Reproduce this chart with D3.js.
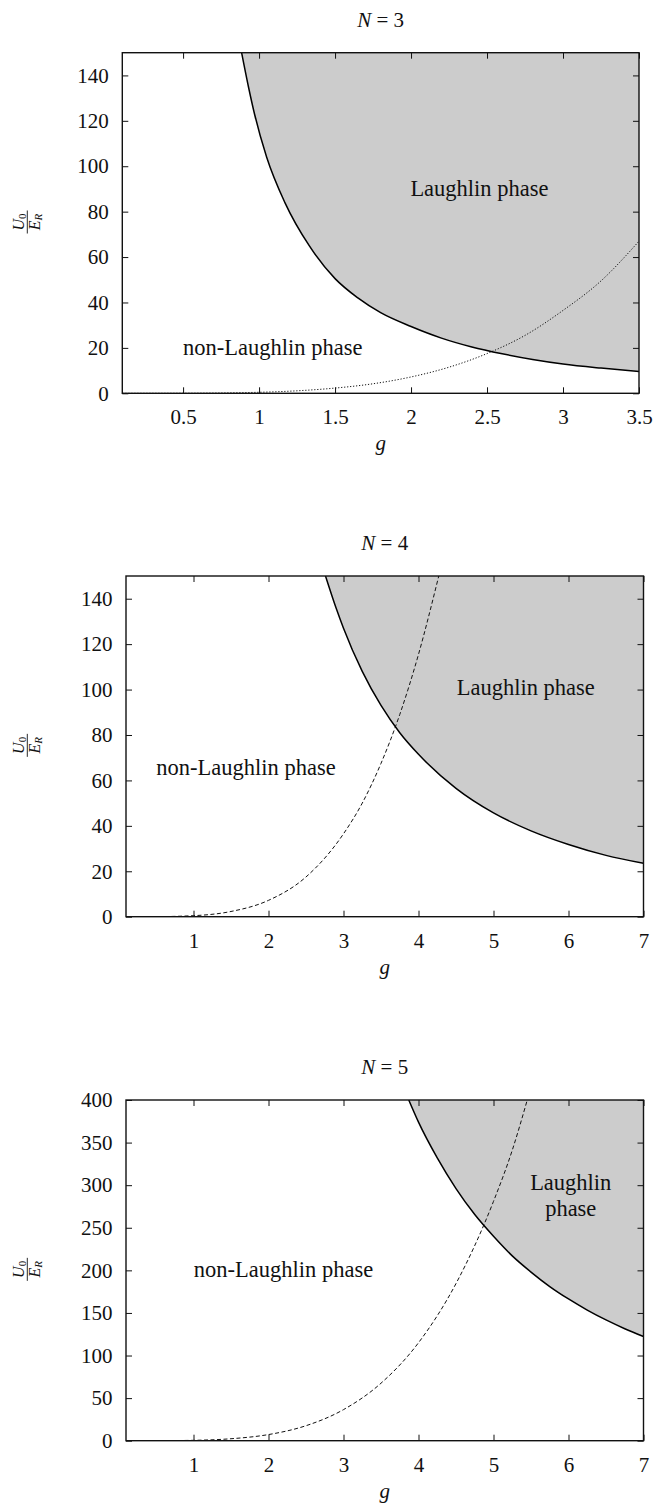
<!DOCTYPE html>
<html>
<head>
<meta charset="utf-8">
<script src="https://cdn.jsdelivr.net/npm/d3@7"></script>
<style>
  body { margin: 0; background: #fff; }
  text { fill: #111; }
</style>
</head>
<body>
<div id="chartArea"></div>
<script>
// N = 3 : phase boundary (solid) and dotted curve
var gBoundary3 = [0.885, 0.93, 0.97, 1.05, 1.17, 1.33, 1.5, 1.65, 1.8, 2.0, 2.2, 2.4, 2.6, 2.8, 3.0, 3.25, 3.5];
var uBoundary3 = [150, 135, 123, 104, 84, 65, 50.5, 42, 35.5, 29.4, 24.3, 20.4, 17.4, 14.9, 12.9, 11.1, 9.6];
var gDotted3 = [0.1, 0.5, 1.0, 1.25, 1.5, 1.75, 2.0, 2.25, 2.5, 2.75, 3.0, 3.25, 3.5];
var uDotted3 = [0, 0.03, 0.45, 1.1, 2.3, 4.2, 7.2, 11.5, 17.5, 25.5, 36.5, 49.5, 67];

// N = 4
var gBoundary4 = [2.76, 2.9, 3.0, 3.25, 3.5, 3.75, 4.0, 4.5, 5.0, 5.5, 6.0, 6.5, 7.0];
var uBoundary4 = [150, 136, 127, 108, 93, 81, 71.5, 56.5, 45.7, 37.8, 31.8, 27.0, 23.5];
var gDashed4 = [0.1, 0.5, 1.0, 1.5, 2.0, 2.5, 3.0, 3.25, 3.5, 3.75, 4.0, 4.27];
var uDashed4 = [0, 0.03, 0.45, 2.3, 7.2, 17.5, 36.5, 50, 67.5, 89, 115.5, 150];

// N = 5
var gBoundary5 = [3.87, 4.0, 4.25, 4.5, 4.75, 5.0, 5.25, 5.5, 5.75, 6.0, 6.25, 6.5, 6.75, 7.0];
var uBoundary5 = [400, 374, 332, 296, 265.5, 240, 217, 198, 181, 166.4, 153.4, 141.8, 131.5, 122.3];
var gDashed5 = [0.1, 0.5, 1.0, 1.5, 2.0, 2.5, 3.0, 3.5, 4.0, 4.5, 5.0, 5.25, 5.45];
var uDashed5 = [0, 0.03, 0.45, 2.3, 7.2, 17.6, 36.5, 67.5, 115, 184.5, 281, 341, 400];

// tick values
var xTicks3 = [0.5, 1, 1.5, 2, 2.5, 3, 3.5];
var xTicks45 = [1, 2, 3, 4, 5, 6, 7];
var yTicks34 = [0, 20, 40, 60, 80, 100, 120, 140];
var yTicks5 = [0, 50, 100, 150, 200, 250, 300, 350, 400];

var serif = "Liberation Serif, DejaVu Serif, Noto Serif, FreeSerif, Tinos, Times New Roman, Times, serif";

function zip(xs, ys) {
  return xs.map((x, i) => ({g: x, u: ys[i]}));
}

var panels = [
  {
    n: "3", top: 52.7, left: 122.3, width: 516.7, height: 340.6,
    xDomain: [0.1, 3.5], yDomain: [0, 150], xTicks: xTicks3, yTicks: yTicks34,
    boundary: zip(gBoundary3, uBoundary3), other: zip(gDotted3, uDotted3), dash: "1.2,1.8",
    labels: [
      {lines: ["Laughlin phase"], g: 2.45, u: 90},
      {lines: ["non-Laughlin phase"], g: 1.09, u: 20}
    ]
  },
  {
    n: "4", top: 576, left: 126, width: 517.5, height: 340.7,
    xDomain: [0.1, 7], yDomain: [0, 150], xTicks: xTicks45, yTicks: yTicks34,
    boundary: zip(gBoundary4, uBoundary4), other: zip(gDashed4, uDashed4), dash: "4,2.5",
    labels: [
      {lines: ["Laughlin phase"], g: 5.43, u: 100.4},
      {lines: ["non-Laughlin phase"], g: 1.70, u: 65.4}
    ]
  },
  {
    n: "5", top: 1100, left: 126, width: 517.5, height: 340.7,
    xDomain: [0.1, 7], yDomain: [0, 400], xTicks: xTicks45, yTicks: yTicks5,
    boundary: zip(gBoundary5, uBoundary5), other: zip(gDashed5, uDashed5), dash: "4,2.5",
    labels: [
      {lines: ["Laughlin", "phase"], g: 6.03, u: 302},
      {lines: ["non-Laughlin phase"], g: 2.2, u: 200}
    ]
  }
];

var svg = d3.select("#chartArea")
  .append("svg")
  .attr("width", 668)
  .attr("height", 1505)
  .style("font-family", serif);

var fontSize = 21;
var labelSize = 22.5;

function drawPanel(p, idx) {
  var w = p.width, h = p.height;

  var xScale = d3.scaleLinear().domain(p.xDomain).range([0, w]);
  var yScale = d3.scaleLinear().domain(p.yDomain).range([h, 0]);

  var chartGroup = svg.append("g")
    .attr("transform", `translate(${p.left}, ${p.top})`);

  // clip to plot box
  var clipId = "clip" + idx;
  chartGroup.append("clipPath").attr("id", clipId)
    .append("rect").attr("width", w).attr("height", h);

  var plot = chartGroup.append("g").attr("clip-path", `url(#${clipId})`);

  // shaded Laughlin region above the boundary
  var area = d3.area()
    .x(d => xScale(d.g))
    .y0(0)
    .y1(d => yScale(d.u))
    .curve(d3.curveMonotoneX);

  plot.append("path")
    .datum(p.boundary)
    .attr("d", area)
    .attr("fill", "#cccccc");

  var line = d3.line()
    .x(d => xScale(d.g))
    .y(d => yScale(d.u))
    .curve(d3.curveMonotoneX);

  plot.append("path")
    .datum(p.other)
    .attr("d", line)
    .attr("fill", "none")
    .attr("stroke", "#111")
    .attr("stroke-width", 1)
    .attr("stroke-dasharray", p.dash);

  plot.append("path")
    .datum(p.boundary)
    .attr("d", line)
    .attr("fill", "none")
    .attr("stroke", "#000")
    .attr("stroke-width", 1.5);

  // axes with inward ticks on all sides
  var xAxis = d3.axisBottom(xScale).tickValues(p.xTicks)
    .tickSizeInner(-6).tickSizeOuter(0).tickPadding(16).tickFormat(d => String(d));
  var yAxis = d3.axisLeft(yScale).tickValues(p.yTicks)
    .tickSizeInner(-6).tickSizeOuter(0).tickPadding(13.5).tickFormat(d => String(d));

  var gx = chartGroup.append("g").attr("transform", `translate(0, ${h})`).call(xAxis);
  var gy = chartGroup.append("g").call(yAxis);
  var gxTop = chartGroup.append("g")
    .call(d3.axisTop(xScale).tickValues(p.xTicks).tickSizeInner(-6).tickSizeOuter(0).tickFormat(""));
  var gyRight = chartGroup.append("g").attr("transform", `translate(${w}, 0)`)
    .call(d3.axisRight(yScale).tickValues(p.yTicks).tickSizeInner(-6).tickSizeOuter(0).tickFormat(""));

  [gx, gy, gxTop, gyRight].forEach(function(a) {
    a.attr("font-family", null).attr("font-size", null);
    a.select(".domain").remove();
    a.selectAll(".tick line").attr("stroke", "#111").attr("stroke-width", 1);
    a.selectAll("text")
      .style("font-family", serif)
      .style("font-size", fontSize + "px")
      .attr("fill", "#111");
  });

  // frame
  chartGroup.append("rect")
    .attr("width", w).attr("height", h)
    .attr("fill", "none")
    .attr("stroke", "#111")
    .attr("stroke-width", 1.4);

  // region labels (multi-line labels as tspans of one text)
  p.labels.forEach(function(lb) {
    var t = chartGroup.append("text")
      .attr("text-anchor", "middle")
      .style("font-size", labelSize + "px");
    lb.lines.forEach(function(s, k) {
      t.append("tspan")
        .attr("x", xScale(lb.g))
        .attr("y", yScale(lb.u))
        .attr("dy", (0.3 + k * 1.15) + "em")
        .text(s);
    });
  });

  // title N = n
  var title = chartGroup.append("text")
    .attr("x", w / 2)
    .attr("y", -26)
    .attr("text-anchor", "middle")
    .style("font-size", fontSize + "px");
  title.append("tspan").attr("font-style", "italic").text("N");
  title.append("tspan").text(" = " + p.n);

  // x label
  chartGroup.append("text")
    .attr("x", w / 2)
    .attr("y", h + 57)
    .attr("text-anchor", "middle")
    .style("font-size", fontSize + "px")
    .attr("font-style", "italic")
    .text("g");

  // y label: U0 / E_R fraction, rotated
  var frac = svg.append("g")
    .attr("transform", `translate(27.3, ${p.top + h / 2 - 1}) rotate(-90)`);
  frac.append("line")
    .attr("x1", -11.5).attr("x2", 11.5)
    .attr("y1", 0).attr("y2", 0)
    .attr("stroke", "#111").attr("stroke-width", 0.9);
  var num = frac.append("text")
    .attr("x", 0).attr("y", -3.5)
    .attr("text-anchor", "middle")
    .style("font-size", "16px");
  num.append("tspan").attr("font-style", "italic").text("U");
  num.append("tspan").style("font-size", "11px").attr("dy", 2).text("0");
  var den = frac.append("text")
    .attr("x", 0).attr("y", 13)
    .attr("text-anchor", "middle")
    .style("font-size", "16px");
  den.append("tspan").attr("font-style", "italic").text("E");
  den.append("tspan").attr("font-style", "italic").style("font-size", "11px").attr("dy", 2).text("R");
}

panels.forEach(drawPanel);
</script>
</body>
</html>
